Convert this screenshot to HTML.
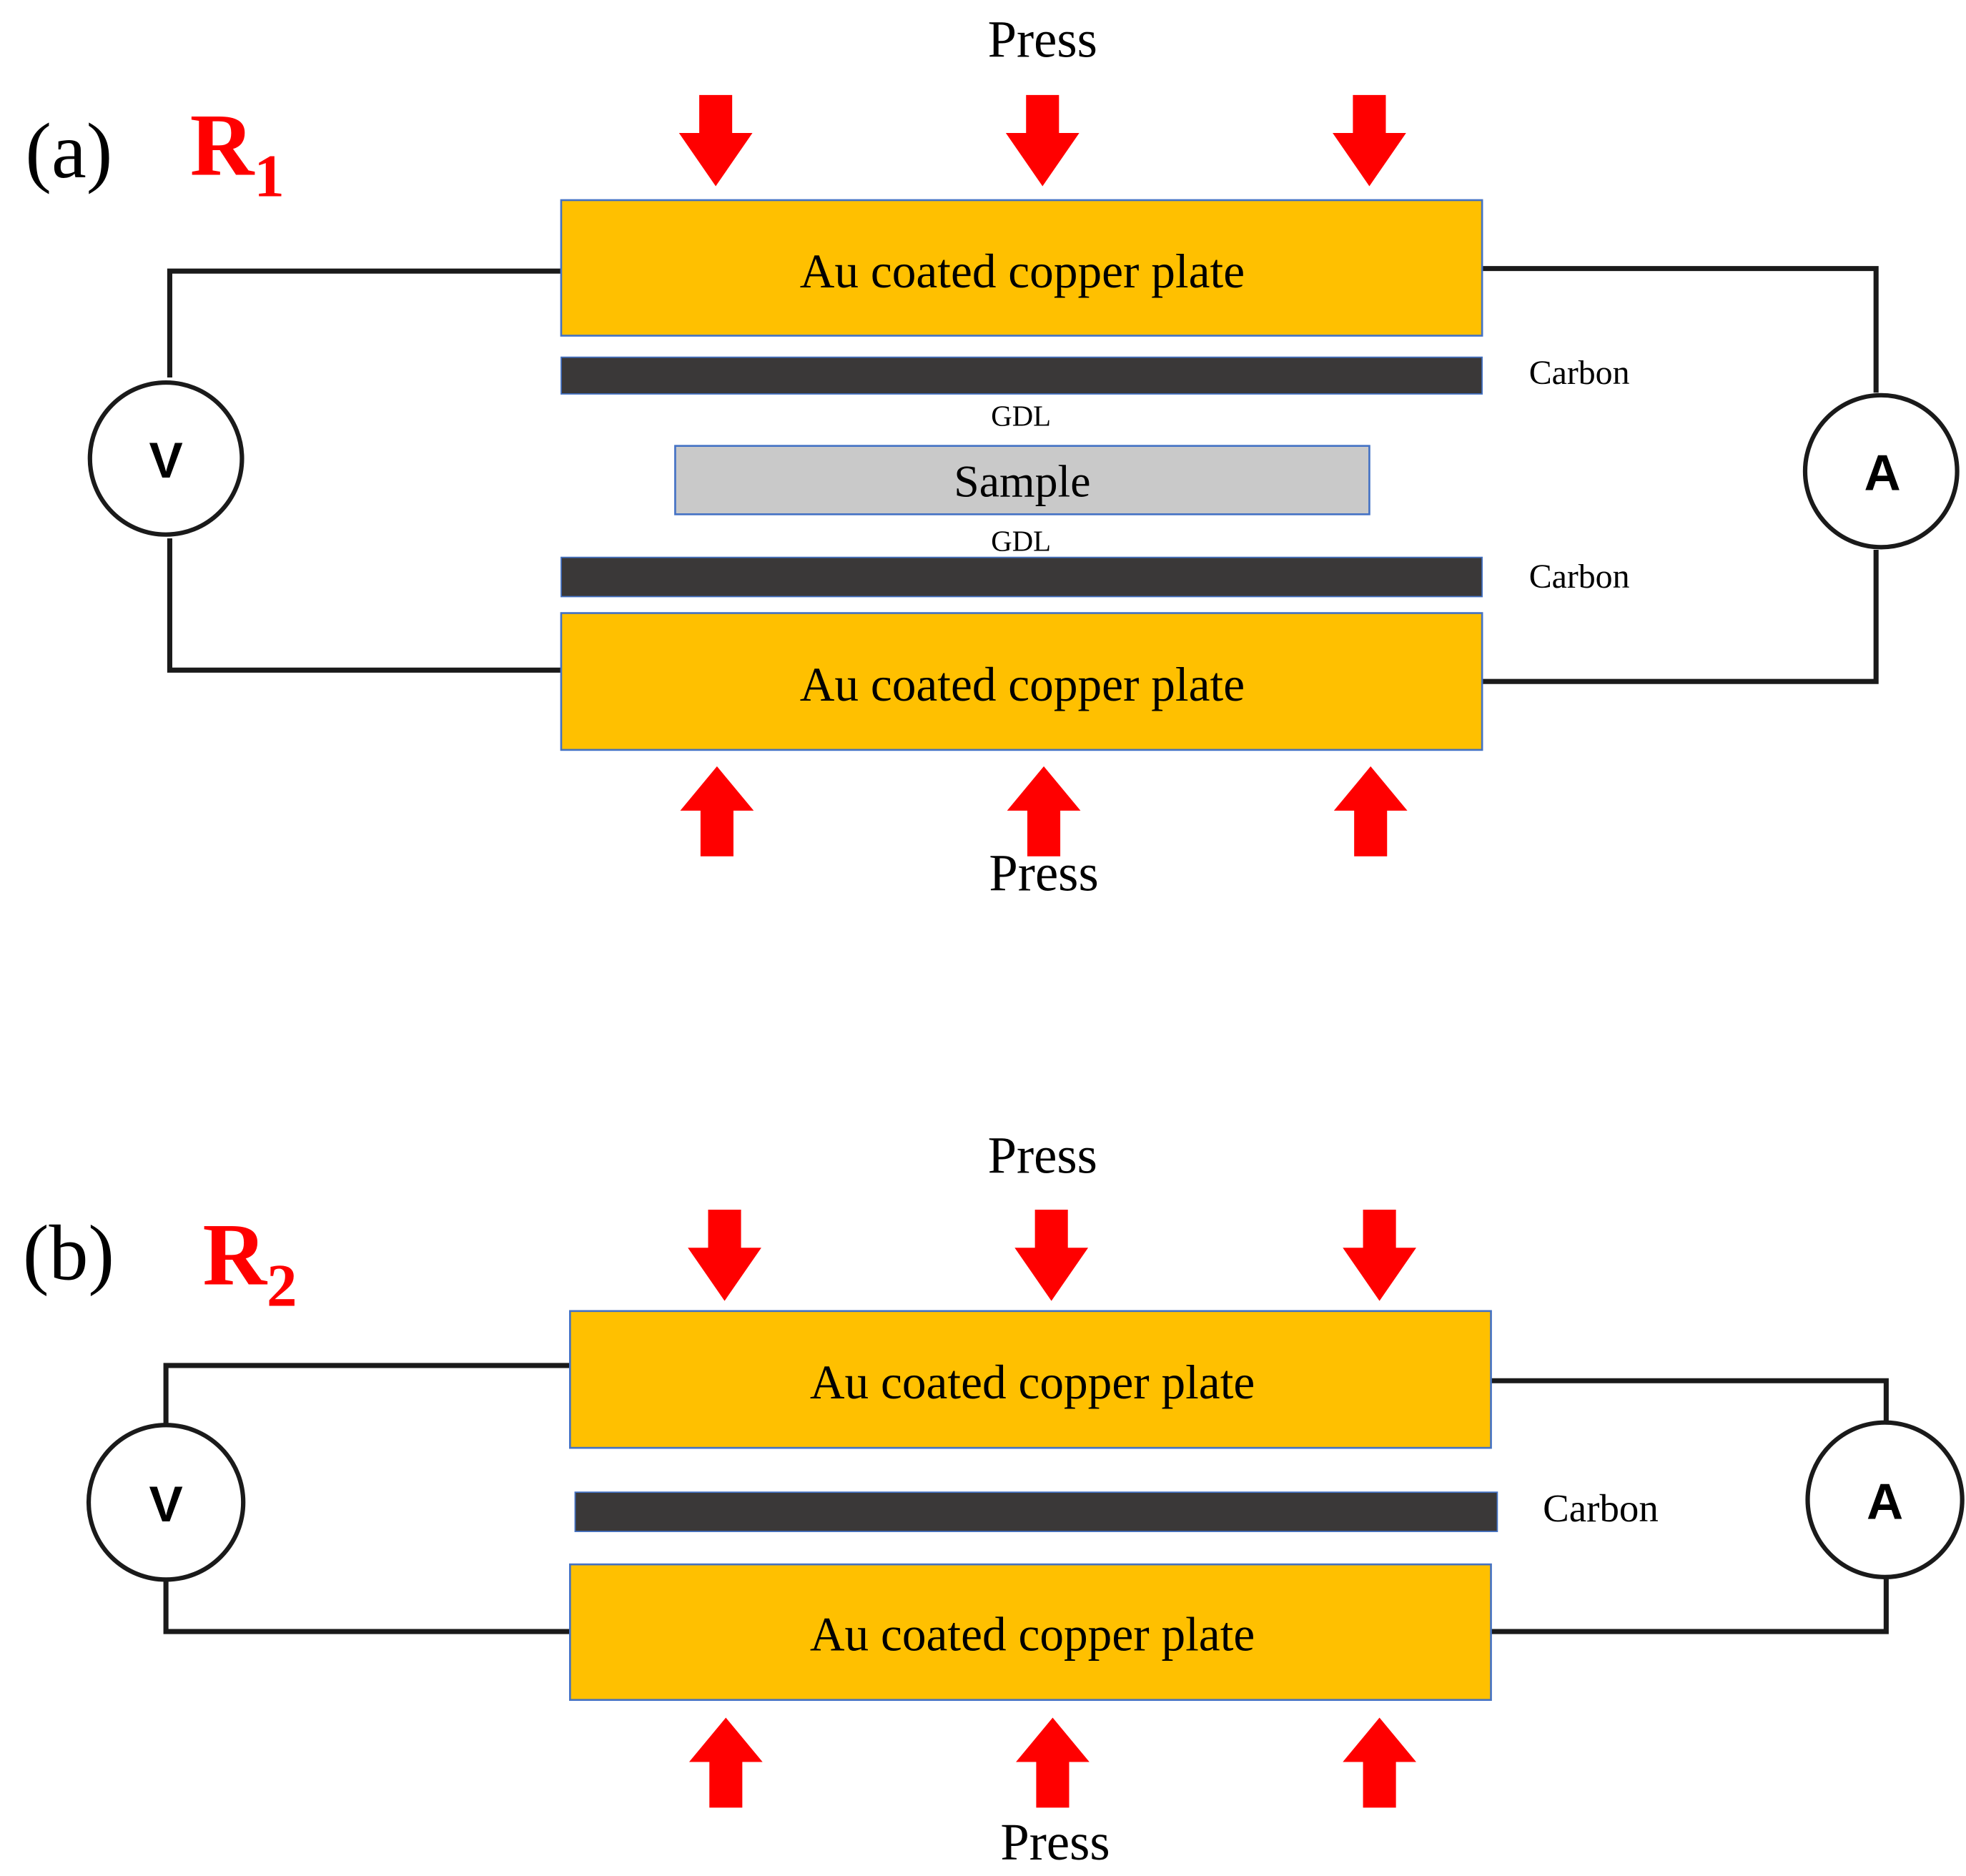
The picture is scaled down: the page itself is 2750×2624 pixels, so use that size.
<!DOCTYPE html>
<html><head><meta charset="utf-8"><style>html,body{margin:0;padding:0;background:#fff}svg{display:block}</style></head>
<body>
<svg width="2750" height="2624" viewBox="0 0 1552 1481" preserveAspectRatio="none" xmlns="http://www.w3.org/2000/svg" font-family="Liberation Serif, serif">
<defs>
<g id="dn"><polygon points="-13,0 13,0 13,30 29,30 0,72 -29,30 -13,30" fill="#FF0000"/></g>
<g id="up"><polygon points="0,0 29,35 13,35 13,71 -13,71 -13,35 -29,35" fill="#FF0000"/></g>
</defs>
<g fill="none" stroke="#1a1a1a" stroke-width="4">
<polyline points="443,214 134,214 134,298"/>
<polyline points="134,425 134,529 443,529"/>
<polyline points="1170,212 1481,212 1481,310"/>
<polyline points="1481,434 1481,538 1170,538"/>
<circle cx="131" cy="362" r="60" stroke-width="3.5"/>
<circle cx="1485" cy="372" r="60" stroke-width="3.5"/>
<polyline points="450,1078 131,1078 131,1125"/>
<polyline points="131,1247 131,1288 450,1288"/>
<polyline points="1177,1090 1489,1090 1489,1123"/>
<polyline points="1489,1245 1489,1288 1177,1288"/>
<circle cx="131" cy="1186" r="61" stroke-width="3.5"/>
<circle cx="1488" cy="1184" r="61" stroke-width="3.5"/>
</g>
<g font-family="Liberation Sans, sans-serif" font-weight="bold" font-size="40" text-anchor="middle" fill="#000">
<text x="131" y="377">V</text><text x="1486" y="387">A</text>
<text x="131" y="1201">V</text><text x="1488" y="1199">A</text>
</g>
<!-- (a) -->
<text x="20" y="140" font-size="62">(a)</text>
<text x="150" y="138" font-size="70" font-weight="bold" fill="#FF0000">R<tspan font-size="48" dy="17">1</tspan></text>
<text x="823" y="45" font-size="41" text-anchor="middle">Press</text>
<use href="#dn" x="565" y="75"/><use href="#dn" x="823" y="75"/><use href="#dn" x="1081" y="75"/>
<rect x="443" y="158" width="727" height="107" fill="#FFC000" stroke="#4472C4" stroke-width="1.5"/>
<text x="807" y="227" font-size="38" text-anchor="middle">Au coated copper plate</text>
<rect x="443" y="282" width="727" height="29" fill="#3A3838" stroke="#4472C4" stroke-width="1"/>
<text x="1207" y="303" font-size="27">Carbon</text>
<text x="806" y="336" font-size="23" text-anchor="middle">GDL</text>
<rect x="533" y="352" width="548" height="54" fill="#C9C9C9" stroke="#4472C4" stroke-width="1.5"/>
<text x="807" y="392" font-size="36" text-anchor="middle">Sample</text>
<text x="806" y="435" font-size="23" text-anchor="middle">GDL</text>
<rect x="443" y="440" width="727" height="31" fill="#3A3838" stroke="#4472C4" stroke-width="1"/>
<text x="1207" y="464" font-size="27">Carbon</text>
<rect x="443" y="484" width="727" height="108" fill="#FFC000" stroke="#4472C4" stroke-width="1.5"/>
<text x="807" y="553" font-size="38" text-anchor="middle">Au coated copper plate</text>
<use href="#up" x="566" y="605"/><use href="#up" x="824" y="605"/><use href="#up" x="1082" y="605"/>
<text x="824" y="703" font-size="41" text-anchor="middle">Press</text>
<!-- (b) -->
<text x="18" y="1010" font-size="62">(b)</text>
<text x="160" y="1014" font-size="70" font-weight="bold" fill="#FF0000">R<tspan font-size="48" dy="17">2</tspan></text>
<text x="823" y="926" font-size="41" text-anchor="middle">Press</text>
<use href="#dn" x="572" y="955"/><use href="#dn" x="830" y="955"/><use href="#dn" x="1089" y="955"/>
<rect x="450" y="1035" width="727" height="108" fill="#FFC000" stroke="#4472C4" stroke-width="1.5"/>
<text x="815" y="1104" font-size="38" text-anchor="middle">Au coated copper plate</text>
<rect x="454" y="1178" width="728" height="31" fill="#3A3838" stroke="#4472C4" stroke-width="1"/>
<text x="1218" y="1201" font-size="31">Carbon</text>
<rect x="450" y="1235" width="727" height="107" fill="#FFC000" stroke="#4472C4" stroke-width="1.5"/>
<text x="815" y="1303" font-size="38" text-anchor="middle">Au coated copper plate</text>
<use href="#up" x="573" y="1356"/><use href="#up" x="831" y="1356"/><use href="#up" x="1089" y="1356"/>
<text x="833" y="1468" font-size="41" text-anchor="middle">Press</text>
</svg>
</body></html>
